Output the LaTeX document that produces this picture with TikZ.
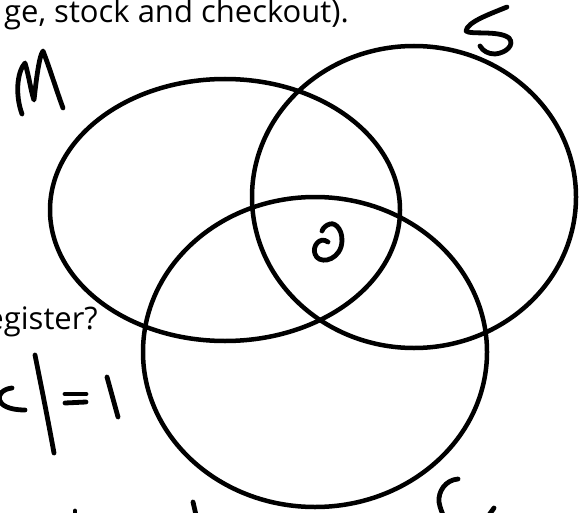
\documentclass[tikz,border=0pt]{standalone}
\usepackage{fontspec}
\setmainfont{Open Sans}
\begin{document}
\begin{tikzpicture}[x=1pt,y=-1pt,
  venn/.style={line width=4.5pt},
  hand/.style={line width=4.8pt, line cap=round, line join=round},
  txt/.style={font=\fontsize{31}{37}\selectfont, inner sep=0pt, anchor=base east}]
\useasboundingbox (0,0) rectangle (580,513);
\fill[white] (0,0) rectangle (580,513);
\node[txt] (t1) at (349,23) {ge, stock and checkout).};
\node[txt] (t2) at (98,329) {egister?};
% Venn sets
\draw[venn] (225,210) ellipse [x radius=175pt, y radius=131pt];
\draw[venn] (414,197) ellipse [x radius=162pt, y radius=151pt];
\draw[venn] (315,352) ellipse [x radius=172pt, y radius=155pt];
% M
\draw[hand] (22,114) .. controls (15,95) and (17,72) .. (25,63)
  .. controls (29,76) and (31,92) .. (34,100)
  .. controls (36,82) and (39,56) .. (43,51)
  .. controls (49,66) and (57,92) .. (63,108);
% S
\draw[hand] (507,7) .. controls (490,14) and (467,22) .. (466,31)
  .. controls (470,35) and (499,30) .. (509,38)
  .. controls (515,45) and (506,53) .. (495,54)
  .. controls (488,54) and (483,51) .. (480,46);
% 0 in the middle
\draw[hand] (328,242) .. controls (320,236) and (312,246) .. (315,254)
  .. controls (318,264) and (336,262) .. (341,247)
  .. controls (345,232) and (336,222) .. (330,224)
  .. controls (326,225) and (323,228) .. (322,231);
% c|=1
\draw[hand] (12,388) .. controls (-6,390) and (-8,410) .. (25,410);
\draw[hand] (35,355) .. controls (42,390) and (48,420) .. (54,453);
\draw[hand] (65,394) -- (86,394);
\draw[hand] (65,403) -- (86,402);
\draw[hand] (107,377) -- (118,417);
% bottom marks
\draw[hand] (75,511) -- (75,515);
\draw[hand] (193,502) -- (196,515);
\draw[hand] (458,479) .. controls (445,480) and (438,492) .. (439,502)
  .. controls (440,508) and (442,512) .. (443,515);
\draw[hand] (494,508) -- (489,515);
\end{tikzpicture}
\end{document}
